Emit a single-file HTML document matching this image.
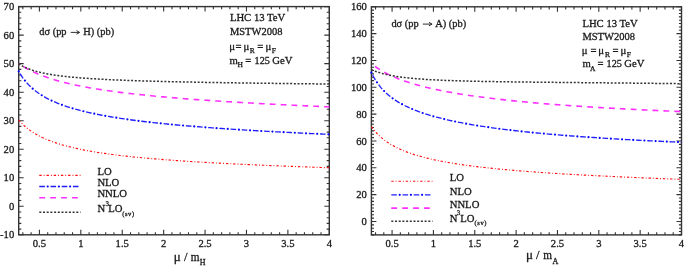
<!DOCTYPE html>
<html><head><meta charset="utf-8"><style>
html,body{margin:0;padding:0;background:#fff;}
body{width:685px;height:268px;overflow:hidden;}
svg{display:block;will-change:transform;filter:blur(0.35px);}
text{font-family:"Liberation Serif",serif;fill:#1a1a1a;stroke:#1a1a1a;stroke-width:0.3px;}
.t{font-size:10.6px;}
.x{font-size:11.5px;}
.g{text-rendering:geometricPrecision;}
</style></head><body>
<svg width="685" height="268" viewBox="0 0 685 268">
<rect x="18.7" y="6.6" width="310.60" height="228.20" fill="none" stroke="#333" stroke-width="1.4"/>
<path d="M22.84 234.80v-2.6M22.84 6.60v2.6M31.12 234.80v-2.6M31.12 6.60v2.6M39.41 234.80v-5.0M39.41 6.60v5.0M47.69 234.80v-2.6M47.69 6.60v2.6M55.97 234.80v-2.6M55.97 6.60v2.6M64.25 234.80v-2.6M64.25 6.60v2.6M72.54 234.80v-2.6M72.54 6.60v2.6M80.82 234.80v-5.0M80.82 6.60v5.0M89.10 234.80v-2.6M89.10 6.60v2.6M97.39 234.80v-2.6M97.39 6.60v2.6M105.67 234.80v-2.6M105.67 6.60v2.6M113.95 234.80v-2.6M113.95 6.60v2.6M122.23 234.80v-5.0M122.23 6.60v5.0M130.52 234.80v-2.6M130.52 6.60v2.6M138.80 234.80v-2.6M138.80 6.60v2.6M147.08 234.80v-2.6M147.08 6.60v2.6M155.36 234.80v-2.6M155.36 6.60v2.6M163.65 234.80v-5.0M163.65 6.60v5.0M171.93 234.80v-2.6M171.93 6.60v2.6M180.21 234.80v-2.6M180.21 6.60v2.6M188.49 234.80v-2.6M188.49 6.60v2.6M196.78 234.80v-2.6M196.78 6.60v2.6M205.06 234.80v-5.0M205.06 6.60v5.0M213.34 234.80v-2.6M213.34 6.60v2.6M221.63 234.80v-2.6M221.63 6.60v2.6M229.91 234.80v-2.6M229.91 6.60v2.6M238.19 234.80v-2.6M238.19 6.60v2.6M246.47 234.80v-5.0M246.47 6.60v5.0M254.76 234.80v-2.6M254.76 6.60v2.6M263.04 234.80v-2.6M263.04 6.60v2.6M271.32 234.80v-2.6M271.32 6.60v2.6M279.60 234.80v-2.6M279.60 6.60v2.6M287.89 234.80v-5.0M287.89 6.60v5.0M296.17 234.80v-2.6M296.17 6.60v2.6M304.45 234.80v-2.6M304.45 6.60v2.6M312.73 234.80v-2.6M312.73 6.60v2.6M321.02 234.80v-2.6M321.02 6.60v2.6M329.30 234.80v-5.0M329.30 6.60v5.0M18.70 234.80h5.0M329.30 234.80h-5.0M18.70 229.09h2.6M329.30 229.09h-2.6M18.70 223.39h2.6M329.30 223.39h-2.6M18.70 217.69h2.6M329.30 217.69h-2.6M18.70 211.98h2.6M329.30 211.98h-2.6M18.70 206.28h5.0M329.30 206.28h-5.0M18.70 200.57h2.6M329.30 200.57h-2.6M18.70 194.87h2.6M329.30 194.87h-2.6M18.70 189.16h2.6M329.30 189.16h-2.6M18.70 183.46h2.6M329.30 183.46h-2.6M18.70 177.75h5.0M329.30 177.75h-5.0M18.70 172.05h2.6M329.30 172.05h-2.6M18.70 166.34h2.6M329.30 166.34h-2.6M18.70 160.63h2.6M329.30 160.63h-2.6M18.70 154.93h2.6M329.30 154.93h-2.6M18.70 149.23h5.0M329.30 149.23h-5.0M18.70 143.52h2.6M329.30 143.52h-2.6M18.70 137.81h2.6M329.30 137.81h-2.6M18.70 132.11h2.6M329.30 132.11h-2.6M18.70 126.41h2.6M329.30 126.41h-2.6M18.70 120.70h5.0M329.30 120.70h-5.0M18.70 114.99h2.6M329.30 114.99h-2.6M18.70 109.29h2.6M329.30 109.29h-2.6M18.70 103.59h2.6M329.30 103.59h-2.6M18.70 97.88h2.6M329.30 97.88h-2.6M18.70 92.18h5.0M329.30 92.18h-5.0M18.70 86.47h2.6M329.30 86.47h-2.6M18.70 80.76h2.6M329.30 80.76h-2.6M18.70 75.06h2.6M329.30 75.06h-2.6M18.70 69.36h2.6M329.30 69.36h-2.6M18.70 63.65h5.0M329.30 63.65h-5.0M18.70 57.94h2.6M329.30 57.94h-2.6M18.70 52.24h2.6M329.30 52.24h-2.6M18.70 46.53h2.6M329.30 46.53h-2.6M18.70 40.83h2.6M329.30 40.83h-2.6M18.70 35.12h5.0M329.30 35.12h-5.0M18.70 29.42h2.6M329.30 29.42h-2.6M18.70 23.71h2.6M329.30 23.71h-2.6M18.70 18.01h2.6M329.30 18.01h-2.6M18.70 12.31h2.6M329.30 12.31h-2.6M18.70 6.60h5.0M329.30 6.60h-5.0" stroke="#333" stroke-width="1.1" fill="none"/>
<text x="39.41" y="247" text-anchor="middle" class="t">0.5</text>
<text x="80.82" y="247" text-anchor="middle" class="t">1</text>
<text x="122.23" y="247" text-anchor="middle" class="t">1.5</text>
<text x="163.65" y="247" text-anchor="middle" class="t">2</text>
<text x="205.06" y="247" text-anchor="middle" class="t">2.5</text>
<text x="246.47" y="247" text-anchor="middle" class="t">3</text>
<text x="287.89" y="247" text-anchor="middle" class="t">3.5</text>
<text x="329.30" y="247" text-anchor="middle" class="t">4</text>
<text x="14.20" y="238.40" text-anchor="end" class="t">-10</text>
<text x="14.20" y="209.88" text-anchor="end" class="t">0</text>
<text x="14.20" y="181.35" text-anchor="end" class="t">10</text>
<text x="14.20" y="152.83" text-anchor="end" class="t">20</text>
<text x="14.20" y="124.30" text-anchor="end" class="t">30</text>
<text x="14.20" y="95.78" text-anchor="end" class="t">40</text>
<text x="14.20" y="67.25" text-anchor="end" class="t">50</text>
<text x="14.20" y="38.73" text-anchor="end" class="t">60</text>
<text x="14.20" y="10.20" text-anchor="end" class="t">70</text>
<path d="M18.70 119.92 L20.65 122.14 L22.61 124.16 L24.56 125.99 L26.51 127.67 L28.47 129.22 L30.42 130.65 L32.37 131.98 L34.33 133.21 L36.28 134.37 L38.23 135.45 L40.19 136.47 L42.14 137.43 L44.09 138.33 L46.05 139.19 L48.00 140.00 L49.96 140.77 L51.91 141.51 L53.86 142.20 L55.82 142.87 L57.77 143.51 L59.72 144.12 L61.68 144.70 L63.63 145.26 L65.58 145.80 L67.54 146.32 L69.49 146.81 L71.44 147.29 L73.40 147.75 L75.35 148.20 L77.30 148.63 L79.26 149.05 L81.21 149.45 L83.16 149.84 L85.12 150.21 L87.07 150.58 L89.02 150.93 L90.98 151.28 L92.93 151.61 L94.88 151.94 L96.84 152.25 L98.79 152.56 L100.75 152.86 L102.70 153.15 L104.65 153.43 L106.61 153.71 L108.56 153.97 L110.51 154.24 L112.47 154.49 L114.42 154.74 L116.37 154.99 L118.33 155.23 L120.28 155.46 L122.23 155.69 L124.19 155.91 L126.14 156.13 L128.09 156.34 L130.05 156.55 L132.00 156.76 L133.95 156.96 L135.91 157.16 L137.86 157.35 L139.81 157.54 L141.77 157.73 L143.72 157.91 L145.67 158.09 L147.63 158.26 L149.58 158.44 L151.54 158.61 L153.49 158.77 L155.44 158.94 L157.40 159.10 L159.35 159.26 L161.30 159.41 L163.26 159.57 L165.21 159.72 L167.16 159.87 L169.12 160.01 L171.07 160.16 L173.02 160.30 L174.98 160.44 L176.93 160.58 L178.88 160.71 L180.84 160.85 L182.79 160.98 L184.74 161.11 L186.70 161.24 L188.65 161.36 L190.60 161.49 L192.56 161.61 L194.51 161.73 L196.46 161.85 L198.42 161.97 L200.37 162.09 L202.33 162.20 L204.28 162.32 L206.23 162.43 L208.19 162.54 L210.14 162.65 L212.09 162.76 L214.05 162.87 L216.00 162.98 L217.95 163.08 L219.91 163.19 L221.86 163.29 L223.81 163.39 L225.77 163.49 L227.72 163.59 L229.67 163.69 L231.63 163.79 L233.58 163.88 L235.53 163.98 L237.49 164.07 L239.44 164.17 L241.39 164.26 L243.35 164.35 L245.30 164.44 L247.25 164.54 L249.21 164.62 L251.16 164.71 L253.12 164.80 L255.07 164.89 L257.02 164.97 L258.98 165.06 L260.93 165.14 L262.88 165.23 L264.84 165.31 L266.79 165.39 L268.74 165.48 L270.70 165.56 L272.65 165.64 L274.60 165.72 L276.56 165.80 L278.51 165.88 L280.46 165.95 L282.42 166.03 L284.37 166.11 L286.32 166.19 L288.28 166.26 L290.23 166.34 L292.18 166.41 L294.14 166.49 L296.09 166.56 L298.04 166.63 L300.00 166.70 L301.95 166.78 L303.91 166.85 L305.86 166.92 L307.81 166.99 L309.77 167.06 L311.72 167.13 L313.67 167.20 L315.63 167.27 L317.58 167.34 L319.53 167.40 L321.49 167.47 L323.44 167.54 L325.39 167.61 L327.35 167.67 L329.30 167.74" stroke="#ff1010" stroke-width="1.15" fill="none" stroke-dasharray="2.4 2.0 0.9 1.9" stroke-dashoffset="0"/>
<path d="M18.70 71.30 L20.65 74.62 L22.61 77.55 L24.56 80.16 L26.51 82.52 L28.47 84.65 L30.42 86.59 L32.37 88.38 L34.33 90.02 L36.28 91.55 L38.23 92.97 L40.19 94.29 L42.14 95.53 L44.09 96.69 L46.05 97.79 L48.00 98.82 L49.96 99.80 L51.91 100.73 L53.86 101.62 L55.82 102.46 L57.77 103.26 L59.72 104.03 L61.68 104.76 L63.63 105.46 L65.58 106.14 L67.54 106.79 L69.49 107.41 L71.44 108.01 L73.40 108.59 L75.35 109.15 L77.30 109.69 L79.26 110.21 L81.21 110.71 L83.16 111.20 L85.12 111.67 L87.07 112.13 L89.02 112.58 L90.98 113.01 L92.93 113.43 L94.88 113.84 L96.84 114.24 L98.79 114.63 L100.75 115.01 L102.70 115.37 L104.65 115.73 L106.61 116.08 L108.56 116.43 L110.51 116.76 L112.47 117.09 L114.42 117.41 L116.37 117.72 L118.33 118.02 L120.28 118.32 L122.23 118.61 L124.19 118.90 L126.14 119.18 L128.09 119.45 L130.05 119.72 L132.00 119.99 L133.95 120.25 L135.91 120.50 L137.86 120.75 L139.81 121.00 L141.77 121.24 L143.72 121.47 L145.67 121.71 L147.63 121.94 L149.58 122.16 L151.54 122.38 L153.49 122.60 L155.44 122.81 L157.40 123.02 L159.35 123.23 L161.30 123.43 L163.26 123.63 L165.21 123.83 L167.16 124.03 L169.12 124.22 L171.07 124.41 L173.02 124.59 L174.98 124.78 L176.93 124.96 L178.88 125.14 L180.84 125.31 L182.79 125.48 L184.74 125.66 L186.70 125.83 L188.65 125.99 L190.60 126.16 L192.56 126.32 L194.51 126.48 L196.46 126.64 L198.42 126.79 L200.37 126.95 L202.33 127.10 L204.28 127.25 L206.23 127.40 L208.19 127.55 L210.14 127.69 L212.09 127.84 L214.05 127.98 L216.00 128.12 L217.95 128.26 L219.91 128.40 L221.86 128.53 L223.81 128.67 L225.77 128.80 L227.72 128.93 L229.67 129.06 L231.63 129.19 L233.58 129.32 L235.53 129.44 L237.49 129.57 L239.44 129.69 L241.39 129.81 L243.35 129.93 L245.30 130.05 L247.25 130.17 L249.21 130.29 L251.16 130.41 L253.12 130.52 L255.07 130.64 L257.02 130.75 L258.98 130.86 L260.93 130.97 L262.88 131.08 L264.84 131.19 L266.79 131.30 L268.74 131.41 L270.70 131.51 L272.65 131.62 L274.60 131.72 L276.56 131.83 L278.51 131.93 L280.46 132.03 L282.42 132.13 L284.37 132.23 L286.32 132.33 L288.28 132.43 L290.23 132.52 L292.18 132.62 L294.14 132.72 L296.09 132.81 L298.04 132.91 L300.00 133.00 L301.95 133.09 L303.91 133.18 L305.86 133.28 L307.81 133.37 L309.77 133.46 L311.72 133.55 L313.67 133.63 L315.63 133.72 L317.58 133.81 L319.53 133.90 L321.49 133.98 L323.44 134.07 L325.39 134.15 L327.35 134.24 L329.30 134.32" stroke="#2020ff" stroke-width="1.35" fill="none" stroke-dasharray="5.6 5.6" stroke-dashoffset="8.4"/><path d="M18.70 71.30 L20.65 74.62 L22.61 77.55 L24.56 80.16 L26.51 82.52 L28.47 84.65 L30.42 86.59 L32.37 88.38 L34.33 90.02 L36.28 91.55 L38.23 92.97 L40.19 94.29 L42.14 95.53 L44.09 96.69 L46.05 97.79 L48.00 98.82 L49.96 99.80 L51.91 100.73 L53.86 101.62 L55.82 102.46 L57.77 103.26 L59.72 104.03 L61.68 104.76 L63.63 105.46 L65.58 106.14 L67.54 106.79 L69.49 107.41 L71.44 108.01 L73.40 108.59 L75.35 109.15 L77.30 109.69 L79.26 110.21 L81.21 110.71 L83.16 111.20 L85.12 111.67 L87.07 112.13 L89.02 112.58 L90.98 113.01 L92.93 113.43 L94.88 113.84 L96.84 114.24 L98.79 114.63 L100.75 115.01 L102.70 115.37 L104.65 115.73 L106.61 116.08 L108.56 116.43 L110.51 116.76 L112.47 117.09 L114.42 117.41 L116.37 117.72 L118.33 118.02 L120.28 118.32 L122.23 118.61 L124.19 118.90 L126.14 119.18 L128.09 119.45 L130.05 119.72 L132.00 119.99 L133.95 120.25 L135.91 120.50 L137.86 120.75 L139.81 121.00 L141.77 121.24 L143.72 121.47 L145.67 121.71 L147.63 121.94 L149.58 122.16 L151.54 122.38 L153.49 122.60 L155.44 122.81 L157.40 123.02 L159.35 123.23 L161.30 123.43 L163.26 123.63 L165.21 123.83 L167.16 124.03 L169.12 124.22 L171.07 124.41 L173.02 124.59 L174.98 124.78 L176.93 124.96 L178.88 125.14 L180.84 125.31 L182.79 125.48 L184.74 125.66 L186.70 125.83 L188.65 125.99 L190.60 126.16 L192.56 126.32 L194.51 126.48 L196.46 126.64 L198.42 126.79 L200.37 126.95 L202.33 127.10 L204.28 127.25 L206.23 127.40 L208.19 127.55 L210.14 127.69 L212.09 127.84 L214.05 127.98 L216.00 128.12 L217.95 128.26 L219.91 128.40 L221.86 128.53 L223.81 128.67 L225.77 128.80 L227.72 128.93 L229.67 129.06 L231.63 129.19 L233.58 129.32 L235.53 129.44 L237.49 129.57 L239.44 129.69 L241.39 129.81 L243.35 129.93 L245.30 130.05 L247.25 130.17 L249.21 130.29 L251.16 130.41 L253.12 130.52 L255.07 130.64 L257.02 130.75 L258.98 130.86 L260.93 130.97 L262.88 131.08 L264.84 131.19 L266.79 131.30 L268.74 131.41 L270.70 131.51 L272.65 131.62 L274.60 131.72 L276.56 131.83 L278.51 131.93 L280.46 132.03 L282.42 132.13 L284.37 132.23 L286.32 132.33 L288.28 132.43 L290.23 132.52 L292.18 132.62 L294.14 132.72 L296.09 132.81 L298.04 132.91 L300.00 133.00 L301.95 133.09 L303.91 133.18 L305.86 133.28 L307.81 133.37 L309.77 133.46 L311.72 133.55 L313.67 133.63 L315.63 133.72 L317.58 133.81 L319.53 133.90 L321.49 133.98 L323.44 134.07 L325.39 134.15 L327.35 134.24 L329.30 134.32" stroke="#0000ff" stroke-width="2.2" stroke-linecap="round" fill="none" stroke-dasharray="0 11.2" stroke-dashoffset="0.0"/>
<path d="M18.70 63.49 L20.65 64.82 L22.61 66.07 L24.56 67.26 L26.51 68.39 L28.47 69.46 L30.42 70.47 L32.37 71.44 L34.33 72.36 L36.28 73.23 L38.23 74.07 L40.19 74.86 L42.14 75.63 L44.09 76.36 L46.05 77.06 L48.00 77.73 L49.96 78.38 L51.91 79.00 L53.86 79.60 L55.82 80.18 L57.77 80.74 L59.72 81.28 L61.68 81.80 L63.63 82.31 L65.58 82.80 L67.54 83.27 L69.49 83.73 L71.44 84.18 L73.40 84.61 L75.35 85.03 L77.30 85.44 L79.26 85.84 L81.21 86.23 L83.16 86.61 L85.12 86.97 L87.07 87.33 L89.02 87.68 L90.98 88.03 L92.93 88.36 L94.88 88.69 L96.84 89.00 L98.79 89.32 L100.75 89.62 L102.70 89.92 L104.65 90.21 L106.61 90.50 L108.56 90.78 L110.51 91.05 L112.47 91.32 L114.42 91.58 L116.37 91.84 L118.33 92.10 L120.28 92.35 L122.23 92.59 L124.19 92.83 L126.14 93.07 L128.09 93.30 L130.05 93.53 L132.00 93.75 L133.95 93.97 L135.91 94.19 L137.86 94.40 L139.81 94.61 L141.77 94.82 L143.72 95.02 L145.67 95.22 L147.63 95.42 L149.58 95.61 L151.54 95.81 L153.49 95.99 L155.44 96.18 L157.40 96.36 L159.35 96.54 L161.30 96.72 L163.26 96.90 L165.21 97.07 L167.16 97.24 L169.12 97.41 L171.07 97.58 L173.02 97.75 L174.98 97.91 L176.93 98.07 L178.88 98.23 L180.84 98.38 L182.79 98.54 L184.74 98.69 L186.70 98.84 L188.65 98.99 L190.60 99.14 L192.56 99.29 L194.51 99.43 L196.46 99.58 L198.42 99.72 L200.37 99.86 L202.33 100.00 L204.28 100.13 L206.23 100.27 L208.19 100.40 L210.14 100.54 L212.09 100.67 L214.05 100.80 L216.00 100.93 L217.95 101.06 L219.91 101.18 L221.86 101.31 L223.81 101.43 L225.77 101.55 L227.72 101.68 L229.67 101.80 L231.63 101.92 L233.58 102.04 L235.53 102.15 L237.49 102.27 L239.44 102.39 L241.39 102.50 L243.35 102.61 L245.30 102.73 L247.25 102.84 L249.21 102.95 L251.16 103.06 L253.12 103.17 L255.07 103.28 L257.02 103.38 L258.98 103.49 L260.93 103.59 L262.88 103.70 L264.84 103.80 L266.79 103.91 L268.74 104.01 L270.70 104.11 L272.65 104.21 L274.60 104.31 L276.56 104.41 L278.51 104.51 L280.46 104.61 L282.42 104.71 L284.37 104.80 L286.32 104.90 L288.28 104.99 L290.23 105.09 L292.18 105.18 L294.14 105.28 L296.09 105.37 L298.04 105.46 L300.00 105.55 L301.95 105.65 L303.91 105.74 L305.86 105.83 L307.81 105.92 L309.77 106.00 L311.72 106.09 L313.67 106.18 L315.63 106.27 L317.58 106.35 L319.53 106.44 L321.49 106.53 L323.44 106.61 L325.39 106.70 L327.35 106.78 L329.30 106.86" stroke="#ff30ff" stroke-width="1.6" fill="none" stroke-dasharray="5.8 5.1" stroke-dashoffset="5.1"/>
<path d="M18.70 63.66 L20.65 64.94 L22.61 66.07 L24.56 67.07 L26.51 67.97 L28.47 68.78 L30.42 69.51 L32.37 70.18 L34.33 70.80 L36.28 71.36 L38.23 71.88 L40.19 72.37 L42.14 72.82 L44.09 73.24 L46.05 73.63 L48.00 73.99 L49.96 74.34 L51.91 74.66 L53.86 74.96 L55.82 75.25 L57.77 75.53 L59.72 75.78 L61.68 76.03 L63.63 76.26 L65.58 76.48 L67.54 76.69 L69.49 76.89 L71.44 77.09 L73.40 77.27 L75.35 77.45 L77.30 77.62 L79.26 77.78 L81.21 77.93 L83.16 78.08 L85.12 78.23 L87.07 78.36 L89.02 78.50 L90.98 78.63 L92.93 78.75 L94.88 78.87 L96.84 78.99 L98.79 79.10 L100.75 79.21 L102.70 79.31 L104.65 79.41 L106.61 79.51 L108.56 79.61 L110.51 79.70 L112.47 79.79 L114.42 79.88 L116.37 79.96 L118.33 80.04 L120.28 80.12 L122.23 80.20 L124.19 80.28 L126.14 80.35 L128.09 80.42 L130.05 80.50 L132.00 80.56 L133.95 80.63 L135.91 80.70 L137.86 80.76 L139.81 80.82 L141.77 80.89 L143.72 80.95 L145.67 81.00 L147.63 81.06 L149.58 81.12 L151.54 81.17 L153.49 81.23 L155.44 81.28 L157.40 81.33 L159.35 81.38 L161.30 81.43 L163.26 81.48 L165.21 81.53 L167.16 81.58 L169.12 81.63 L171.07 81.67 L173.02 81.72 L174.98 81.76 L176.93 81.80 L178.88 81.85 L180.84 81.89 L182.79 81.93 L184.74 81.97 L186.70 82.01 L188.65 82.05 L190.60 82.09 L192.56 82.13 L194.51 82.17 L196.46 82.20 L198.42 82.24 L200.37 82.28 L202.33 82.31 L204.28 82.35 L206.23 82.38 L208.19 82.42 L210.14 82.45 L212.09 82.48 L214.05 82.52 L216.00 82.55 L217.95 82.58 L219.91 82.62 L221.86 82.65 L223.81 82.68 L225.77 82.71 L227.72 82.74 L229.67 82.77 L231.63 82.80 L233.58 82.83 L235.53 82.86 L237.49 82.89 L239.44 82.92 L241.39 82.95 L243.35 82.97 L245.30 83.00 L247.25 83.03 L249.21 83.06 L251.16 83.09 L253.12 83.11 L255.07 83.14 L257.02 83.17 L258.98 83.19 L260.93 83.22 L262.88 83.24 L264.84 83.27 L266.79 83.30 L268.74 83.32 L270.70 83.35 L272.65 83.37 L274.60 83.40 L276.56 83.42 L278.51 83.45 L280.46 83.47 L282.42 83.49 L284.37 83.52 L286.32 83.54 L288.28 83.57 L290.23 83.59 L292.18 83.61 L294.14 83.64 L296.09 83.66 L298.04 83.68 L300.00 83.71 L301.95 83.73 L303.91 83.75 L305.86 83.77 L307.81 83.80 L309.77 83.82 L311.72 83.84 L313.67 83.86 L315.63 83.88 L317.58 83.91 L319.53 83.93 L321.49 83.95 L323.44 83.97 L325.39 83.99 L327.35 84.01 L329.30 84.03" stroke="#333" stroke-width="1.5" fill="none" stroke-dasharray="2 1.7" stroke-dashoffset="0"/>
<rect x="371.4" y="6.8" width="310.10" height="228.10" fill="none" stroke="#333" stroke-width="1.4"/>
<path d="M375.53 234.90v-2.6M375.53 6.80v2.6M383.80 234.90v-2.6M383.80 6.80v2.6M392.07 234.90v-5.0M392.07 6.80v5.0M400.34 234.90v-2.6M400.34 6.80v2.6M408.61 234.90v-2.6M408.61 6.80v2.6M416.88 234.90v-2.6M416.88 6.80v2.6M425.15 234.90v-2.6M425.15 6.80v2.6M433.42 234.90v-5.0M433.42 6.80v5.0M441.69 234.90v-2.6M441.69 6.80v2.6M449.96 234.90v-2.6M449.96 6.80v2.6M458.23 234.90v-2.6M458.23 6.80v2.6M466.50 234.90v-2.6M466.50 6.80v2.6M474.77 234.90v-5.0M474.77 6.80v5.0M483.04 234.90v-2.6M483.04 6.80v2.6M491.31 234.90v-2.6M491.31 6.80v2.6M499.57 234.90v-2.6M499.57 6.80v2.6M507.84 234.90v-2.6M507.84 6.80v2.6M516.11 234.90v-5.0M516.11 6.80v5.0M524.38 234.90v-2.6M524.38 6.80v2.6M532.65 234.90v-2.6M532.65 6.80v2.6M540.92 234.90v-2.6M540.92 6.80v2.6M549.19 234.90v-2.6M549.19 6.80v2.6M557.46 234.90v-5.0M557.46 6.80v5.0M565.73 234.90v-2.6M565.73 6.80v2.6M574.00 234.90v-2.6M574.00 6.80v2.6M582.27 234.90v-2.6M582.27 6.80v2.6M590.54 234.90v-2.6M590.54 6.80v2.6M598.81 234.90v-5.0M598.81 6.80v5.0M607.08 234.90v-2.6M607.08 6.80v2.6M615.35 234.90v-2.6M615.35 6.80v2.6M623.61 234.90v-2.6M623.61 6.80v2.6M631.88 234.90v-2.6M631.88 6.80v2.6M640.15 234.90v-5.0M640.15 6.80v5.0M648.42 234.90v-2.6M648.42 6.80v2.6M656.69 234.90v-2.6M656.69 6.80v2.6M664.96 234.90v-2.6M664.96 6.80v2.6M673.23 234.90v-2.6M673.23 6.80v2.6M681.50 234.90v-5.0M681.50 6.80v5.0M371.40 234.90h2.6M681.50 234.90h-2.6M371.40 231.55h2.6M681.50 231.55h-2.6M371.40 228.19h2.6M681.50 228.19h-2.6M371.40 224.84h2.6M681.50 224.84h-2.6M371.40 221.48h5.0M681.50 221.48h-5.0M371.40 218.13h2.6M681.50 218.13h-2.6M371.40 214.77h2.6M681.50 214.77h-2.6M371.40 211.42h2.6M681.50 211.42h-2.6M371.40 208.06h2.6M681.50 208.06h-2.6M371.40 204.71h2.6M681.50 204.71h-2.6M371.40 201.36h2.6M681.50 201.36h-2.6M371.40 198.00h2.6M681.50 198.00h-2.6M371.40 194.65h5.0M681.50 194.65h-5.0M371.40 191.29h2.6M681.50 191.29h-2.6M371.40 187.94h2.6M681.50 187.94h-2.6M371.40 184.58h2.6M681.50 184.58h-2.6M371.40 181.23h2.6M681.50 181.23h-2.6M371.40 177.88h2.6M681.50 177.88h-2.6M371.40 174.52h2.6M681.50 174.52h-2.6M371.40 171.17h2.6M681.50 171.17h-2.6M371.40 167.81h5.0M681.50 167.81h-5.0M371.40 164.46h2.6M681.50 164.46h-2.6M371.40 161.10h2.6M681.50 161.10h-2.6M371.40 157.75h2.6M681.50 157.75h-2.6M371.40 154.39h2.6M681.50 154.39h-2.6M371.40 151.04h2.6M681.50 151.04h-2.6M371.40 147.69h2.6M681.50 147.69h-2.6M371.40 144.33h2.6M681.50 144.33h-2.6M371.40 140.98h5.0M681.50 140.98h-5.0M371.40 137.62h2.6M681.50 137.62h-2.6M371.40 134.27h2.6M681.50 134.27h-2.6M371.40 130.91h2.6M681.50 130.91h-2.6M371.40 127.56h2.6M681.50 127.56h-2.6M371.40 124.20h2.6M681.50 124.20h-2.6M371.40 120.85h2.6M681.50 120.85h-2.6M371.40 117.50h2.6M681.50 117.50h-2.6M371.40 114.14h5.0M681.50 114.14h-5.0M371.40 110.79h2.6M681.50 110.79h-2.6M371.40 107.43h2.6M681.50 107.43h-2.6M371.40 104.08h2.6M681.50 104.08h-2.6M371.40 100.72h2.6M681.50 100.72h-2.6M371.40 97.37h2.6M681.50 97.37h-2.6M371.40 94.01h2.6M681.50 94.01h-2.6M371.40 90.66h2.6M681.50 90.66h-2.6M371.40 87.31h5.0M681.50 87.31h-5.0M371.40 83.95h2.6M681.50 83.95h-2.6M371.40 80.60h2.6M681.50 80.60h-2.6M371.40 77.24h2.6M681.50 77.24h-2.6M371.40 73.89h2.6M681.50 73.89h-2.6M371.40 70.53h2.6M681.50 70.53h-2.6M371.40 67.18h2.6M681.50 67.18h-2.6M371.40 63.83h2.6M681.50 63.83h-2.6M371.40 60.47h5.0M681.50 60.47h-5.0M371.40 57.12h2.6M681.50 57.12h-2.6M371.40 53.76h2.6M681.50 53.76h-2.6M371.40 50.41h2.6M681.50 50.41h-2.6M371.40 47.05h2.6M681.50 47.05h-2.6M371.40 43.70h2.6M681.50 43.70h-2.6M371.40 40.34h2.6M681.50 40.34h-2.6M371.40 36.99h2.6M681.50 36.99h-2.6M371.40 33.64h5.0M681.50 33.64h-5.0M371.40 30.28h2.6M681.50 30.28h-2.6M371.40 26.93h2.6M681.50 26.93h-2.6M371.40 23.57h2.6M681.50 23.57h-2.6M371.40 20.22h2.6M681.50 20.22h-2.6M371.40 16.86h2.6M681.50 16.86h-2.6M371.40 13.51h2.6M681.50 13.51h-2.6M371.40 10.15h2.6M681.50 10.15h-2.6M371.40 6.80h5.0M681.50 6.80h-5.0" stroke="#333" stroke-width="1.1" fill="none"/>
<text x="392.07" y="247" text-anchor="middle" class="t">0.5</text>
<text x="433.42" y="247" text-anchor="middle" class="t">1</text>
<text x="474.77" y="247" text-anchor="middle" class="t">1.5</text>
<text x="516.11" y="247" text-anchor="middle" class="t">2</text>
<text x="557.46" y="247" text-anchor="middle" class="t">2.5</text>
<text x="598.81" y="247" text-anchor="middle" class="t">3</text>
<text x="640.15" y="247" text-anchor="middle" class="t">3.5</text>
<text x="681.50" y="247" text-anchor="middle" class="t">4</text>
<text x="366.90" y="225.08" text-anchor="end" class="t">0</text>
<text x="366.90" y="198.25" text-anchor="end" class="t">20</text>
<text x="366.90" y="171.41" text-anchor="end" class="t">40</text>
<text x="366.90" y="144.58" text-anchor="end" class="t">60</text>
<text x="366.90" y="117.74" text-anchor="end" class="t">80</text>
<text x="366.90" y="90.91" text-anchor="end" class="t">100</text>
<text x="366.90" y="64.07" text-anchor="end" class="t">120</text>
<text x="366.90" y="37.24" text-anchor="end" class="t">140</text>
<text x="366.90" y="10.40" text-anchor="end" class="t">160</text>
<path d="M371.40 126.69 L373.35 129.30 L375.30 131.64 L377.25 133.76 L379.20 135.68 L381.15 137.44 L383.10 139.06 L385.05 140.55 L387.00 141.94 L388.95 143.23 L390.90 144.43 L392.85 145.56 L394.80 146.62 L396.75 147.62 L398.70 148.56 L400.65 149.45 L402.61 150.30 L404.56 151.10 L406.51 151.86 L408.46 152.59 L410.41 153.28 L412.36 153.94 L414.31 154.58 L416.26 155.18 L418.21 155.76 L420.16 156.32 L422.11 156.86 L424.06 157.38 L426.01 157.88 L427.96 158.35 L429.91 158.82 L431.86 159.27 L433.81 159.70 L435.76 160.12 L437.71 160.52 L439.66 160.91 L441.61 161.29 L443.56 161.66 L445.51 162.02 L447.46 162.37 L449.41 162.70 L451.36 163.03 L453.31 163.35 L455.26 163.66 L457.21 163.97 L459.16 164.26 L461.11 164.55 L463.06 164.83 L465.02 165.11 L466.97 165.37 L468.92 165.63 L470.87 165.89 L472.82 166.14 L474.77 166.38 L476.72 166.62 L478.67 166.86 L480.62 167.08 L482.57 167.31 L484.52 167.53 L486.47 167.74 L488.42 167.95 L490.37 168.16 L492.32 168.36 L494.27 168.56 L496.22 168.76 L498.17 168.95 L500.12 169.14 L502.07 169.32 L504.02 169.51 L505.97 169.68 L507.92 169.86 L509.87 170.03 L511.82 170.20 L513.77 170.37 L515.72 170.53 L517.67 170.70 L519.62 170.86 L521.57 171.01 L523.52 171.17 L525.47 171.32 L527.43 171.47 L529.38 171.62 L531.33 171.76 L533.28 171.91 L535.23 172.05 L537.18 172.19 L539.13 172.33 L541.08 172.46 L543.03 172.60 L544.98 172.73 L546.93 172.86 L548.88 172.99 L550.83 173.12 L552.78 173.24 L554.73 173.37 L556.68 173.49 L558.63 173.61 L560.58 173.73 L562.53 173.85 L564.48 173.97 L566.43 174.09 L568.38 174.20 L570.33 174.31 L572.28 174.43 L574.23 174.54 L576.18 174.65 L578.13 174.76 L580.08 174.86 L582.03 174.97 L583.98 175.08 L585.93 175.18 L587.88 175.28 L589.84 175.39 L591.79 175.49 L593.74 175.59 L595.69 175.69 L597.64 175.79 L599.59 175.88 L601.54 175.98 L603.49 176.08 L605.44 176.17 L607.39 176.26 L609.34 176.36 L611.29 176.45 L613.24 176.54 L615.19 176.63 L617.14 176.72 L619.09 176.81 L621.04 176.90 L622.99 176.99 L624.94 177.08 L626.89 177.16 L628.84 177.25 L630.79 177.34 L632.74 177.42 L634.69 177.51 L636.64 177.59 L638.59 177.67 L640.54 177.75 L642.49 177.84 L644.44 177.92 L646.39 178.00 L648.34 178.08 L650.29 178.16 L652.25 178.24 L654.20 178.31 L656.15 178.39 L658.10 178.47 L660.05 178.55 L662.00 178.62 L663.95 178.70 L665.90 178.77 L667.85 178.85 L669.80 178.92 L671.75 179.00 L673.70 179.07 L675.65 179.14 L677.60 179.22 L679.55 179.29 L681.50 179.36" stroke="#ff1010" stroke-width="1.15" fill="none" stroke-dasharray="2.4 2.0 0.9 1.9" stroke-dashoffset="0"/>
<path d="M371.40 72.67 L373.35 76.49 L375.30 79.84 L377.25 82.80 L379.20 85.45 L381.15 87.83 L383.10 89.99 L385.05 91.97 L387.00 93.79 L388.95 95.47 L390.90 97.02 L392.85 98.48 L394.80 99.83 L396.75 101.10 L398.70 102.30 L400.65 103.43 L402.61 104.50 L404.56 105.51 L406.51 106.48 L408.46 107.39 L410.41 108.27 L412.36 109.10 L414.31 109.90 L416.26 110.67 L418.21 111.41 L420.16 112.11 L422.11 112.80 L424.06 113.45 L426.01 114.08 L427.96 114.70 L429.91 115.29 L431.86 115.86 L433.81 116.41 L435.76 116.95 L437.71 117.47 L439.66 117.97 L441.61 118.47 L443.56 118.94 L445.51 119.41 L447.46 119.86 L449.41 120.30 L451.36 120.73 L453.31 121.14 L455.26 121.55 L457.21 121.95 L459.16 122.34 L461.11 122.71 L463.06 123.08 L465.02 123.45 L466.97 123.80 L468.92 124.15 L470.87 124.49 L472.82 124.82 L474.77 125.14 L476.72 125.46 L478.67 125.77 L480.62 126.08 L482.57 126.38 L484.52 126.67 L486.47 126.96 L488.42 127.25 L490.37 127.52 L492.32 127.80 L494.27 128.07 L496.22 128.33 L498.17 128.59 L500.12 128.84 L502.07 129.09 L504.02 129.34 L505.97 129.58 L507.92 129.82 L509.87 130.05 L511.82 130.28 L513.77 130.51 L515.72 130.73 L517.67 130.95 L519.62 131.17 L521.57 131.38 L523.52 131.59 L525.47 131.80 L527.43 132.01 L529.38 132.21 L531.33 132.40 L533.28 132.60 L535.23 132.79 L537.18 132.98 L539.13 133.17 L541.08 133.35 L543.03 133.54 L544.98 133.72 L546.93 133.89 L548.88 134.07 L550.83 134.24 L552.78 134.41 L554.73 134.58 L556.68 134.75 L558.63 134.91 L560.58 135.07 L562.53 135.23 L564.48 135.39 L566.43 135.55 L568.38 135.70 L570.33 135.85 L572.28 136.00 L574.23 136.15 L576.18 136.30 L578.13 136.44 L580.08 136.58 L582.03 136.73 L583.98 136.87 L585.93 137.00 L587.88 137.14 L589.84 137.28 L591.79 137.41 L593.74 137.54 L595.69 137.67 L597.64 137.80 L599.59 137.93 L601.54 138.06 L603.49 138.18 L605.44 138.30 L607.39 138.43 L609.34 138.55 L611.29 138.67 L613.24 138.79 L615.19 138.90 L617.14 139.02 L619.09 139.13 L621.04 139.25 L622.99 139.36 L624.94 139.47 L626.89 139.58 L628.84 139.69 L630.79 139.80 L632.74 139.90 L634.69 140.01 L636.64 140.11 L638.59 140.22 L640.54 140.32 L642.49 140.42 L644.44 140.52 L646.39 140.62 L648.34 140.72 L650.29 140.81 L652.25 140.91 L654.20 141.01 L656.15 141.10 L658.10 141.19 L660.05 141.29 L662.00 141.38 L663.95 141.47 L665.90 141.56 L667.85 141.65 L669.80 141.74 L671.75 141.83 L673.70 141.91 L675.65 142.00 L677.60 142.08 L679.55 142.17 L681.50 142.25" stroke="#2020ff" stroke-width="1.35" fill="none" stroke-dasharray="5.6 5.6" stroke-dashoffset="8.4"/><path d="M371.40 72.67 L373.35 76.49 L375.30 79.84 L377.25 82.80 L379.20 85.45 L381.15 87.83 L383.10 89.99 L385.05 91.97 L387.00 93.79 L388.95 95.47 L390.90 97.02 L392.85 98.48 L394.80 99.83 L396.75 101.10 L398.70 102.30 L400.65 103.43 L402.61 104.50 L404.56 105.51 L406.51 106.48 L408.46 107.39 L410.41 108.27 L412.36 109.10 L414.31 109.90 L416.26 110.67 L418.21 111.41 L420.16 112.11 L422.11 112.80 L424.06 113.45 L426.01 114.08 L427.96 114.70 L429.91 115.29 L431.86 115.86 L433.81 116.41 L435.76 116.95 L437.71 117.47 L439.66 117.97 L441.61 118.47 L443.56 118.94 L445.51 119.41 L447.46 119.86 L449.41 120.30 L451.36 120.73 L453.31 121.14 L455.26 121.55 L457.21 121.95 L459.16 122.34 L461.11 122.71 L463.06 123.08 L465.02 123.45 L466.97 123.80 L468.92 124.15 L470.87 124.49 L472.82 124.82 L474.77 125.14 L476.72 125.46 L478.67 125.77 L480.62 126.08 L482.57 126.38 L484.52 126.67 L486.47 126.96 L488.42 127.25 L490.37 127.52 L492.32 127.80 L494.27 128.07 L496.22 128.33 L498.17 128.59 L500.12 128.84 L502.07 129.09 L504.02 129.34 L505.97 129.58 L507.92 129.82 L509.87 130.05 L511.82 130.28 L513.77 130.51 L515.72 130.73 L517.67 130.95 L519.62 131.17 L521.57 131.38 L523.52 131.59 L525.47 131.80 L527.43 132.01 L529.38 132.21 L531.33 132.40 L533.28 132.60 L535.23 132.79 L537.18 132.98 L539.13 133.17 L541.08 133.35 L543.03 133.54 L544.98 133.72 L546.93 133.89 L548.88 134.07 L550.83 134.24 L552.78 134.41 L554.73 134.58 L556.68 134.75 L558.63 134.91 L560.58 135.07 L562.53 135.23 L564.48 135.39 L566.43 135.55 L568.38 135.70 L570.33 135.85 L572.28 136.00 L574.23 136.15 L576.18 136.30 L578.13 136.44 L580.08 136.58 L582.03 136.73 L583.98 136.87 L585.93 137.00 L587.88 137.14 L589.84 137.28 L591.79 137.41 L593.74 137.54 L595.69 137.67 L597.64 137.80 L599.59 137.93 L601.54 138.06 L603.49 138.18 L605.44 138.30 L607.39 138.43 L609.34 138.55 L611.29 138.67 L613.24 138.79 L615.19 138.90 L617.14 139.02 L619.09 139.13 L621.04 139.25 L622.99 139.36 L624.94 139.47 L626.89 139.58 L628.84 139.69 L630.79 139.80 L632.74 139.90 L634.69 140.01 L636.64 140.11 L638.59 140.22 L640.54 140.32 L642.49 140.42 L644.44 140.52 L646.39 140.62 L648.34 140.72 L650.29 140.81 L652.25 140.91 L654.20 141.01 L656.15 141.10 L658.10 141.19 L660.05 141.29 L662.00 141.38 L663.95 141.47 L665.90 141.56 L667.85 141.65 L669.80 141.74 L671.75 141.83 L673.70 141.91 L675.65 142.00 L677.60 142.08 L679.55 142.17 L681.50 142.25" stroke="#0000ff" stroke-width="2.2" stroke-linecap="round" fill="none" stroke-dasharray="0 11.2" stroke-dashoffset="0.0"/>
<path d="M375.00 66.37 L376.93 67.74 L378.86 69.03 L380.78 70.23 L382.71 71.37 L384.64 72.44 L386.57 73.46 L388.49 74.43 L390.42 75.35 L392.35 76.23 L394.28 77.07 L396.20 77.87 L398.13 78.65 L400.06 79.39 L401.99 80.10 L403.92 80.79 L405.84 81.45 L407.77 82.09 L409.70 82.71 L411.63 83.30 L413.55 83.88 L415.48 84.44 L417.41 84.99 L419.34 85.51 L421.26 86.02 L423.19 86.52 L425.12 87.00 L427.05 87.48 L428.97 87.93 L430.90 88.38 L432.83 88.81 L434.76 89.24 L436.69 89.65 L438.61 90.05 L440.54 90.45 L442.47 90.83 L444.40 91.21 L446.32 91.58 L448.25 91.93 L450.18 92.29 L452.11 92.63 L454.03 92.97 L455.96 93.30 L457.89 93.62 L459.82 93.94 L461.75 94.25 L463.67 94.55 L465.60 94.85 L467.53 95.14 L469.46 95.43 L471.38 95.71 L473.31 95.99 L475.24 96.26 L477.17 96.53 L479.09 96.79 L481.02 97.05 L482.95 97.31 L484.88 97.56 L486.81 97.80 L488.73 98.04 L490.66 98.28 L492.59 98.51 L494.52 98.74 L496.44 98.97 L498.37 99.19 L500.30 99.41 L502.23 99.63 L504.15 99.84 L506.08 100.05 L508.01 100.26 L509.94 100.46 L511.86 100.66 L513.79 100.86 L515.72 101.06 L517.65 101.25 L519.58 101.44 L521.50 101.63 L523.43 101.81 L525.36 101.99 L527.29 102.17 L529.21 102.35 L531.14 102.52 L533.07 102.70 L535.00 102.87 L536.92 103.03 L538.85 103.20 L540.78 103.36 L542.71 103.53 L544.64 103.69 L546.56 103.84 L548.49 104.00 L550.42 104.15 L552.35 104.31 L554.27 104.46 L556.20 104.61 L558.13 104.75 L560.06 104.90 L561.98 105.04 L563.91 105.18 L565.84 105.32 L567.77 105.46 L569.69 105.60 L571.62 105.73 L573.55 105.87 L575.48 106.00 L577.41 106.13 L579.33 106.26 L581.26 106.39 L583.19 106.52 L585.12 106.64 L587.04 106.77 L588.97 106.89 L590.90 107.01 L592.83 107.13 L594.75 107.25 L596.68 107.37 L598.61 107.48 L600.54 107.60 L602.47 107.71 L604.39 107.83 L606.32 107.94 L608.25 108.05 L610.18 108.16 L612.10 108.27 L614.03 108.38 L615.96 108.48 L617.89 108.59 L619.81 108.69 L621.74 108.80 L623.67 108.90 L625.60 109.00 L627.53 109.10 L629.45 109.20 L631.38 109.30 L633.31 109.40 L635.24 109.50 L637.16 109.59 L639.09 109.69 L641.02 109.78 L642.95 109.87 L644.87 109.97 L646.80 110.06 L648.73 110.15 L650.66 110.24 L652.58 110.33 L654.51 110.42 L656.44 110.51 L658.37 110.59 L660.30 110.68 L662.22 110.77 L664.15 110.85 L666.08 110.93 L668.01 111.02 L669.93 111.10 L671.86 111.18 L673.79 111.26 L675.72 111.34 L677.64 111.42 L679.57 111.50 L681.50 111.58" stroke="#ff30ff" stroke-width="1.6" fill="none" stroke-dasharray="5.8 5.1" stroke-dashoffset="0"/>
<path d="M371.40 69.79 L373.35 70.58 L375.30 71.30 L377.25 71.97 L379.20 72.58 L381.15 73.15 L383.10 73.68 L385.05 74.16 L387.00 74.61 L388.95 75.03 L390.90 75.41 L392.85 75.78 L394.80 76.11 L396.75 76.43 L398.70 76.72 L400.65 76.99 L402.61 77.25 L404.56 77.49 L406.51 77.72 L408.46 77.93 L410.41 78.13 L412.36 78.32 L414.31 78.50 L416.26 78.67 L418.21 78.83 L420.16 78.98 L422.11 79.12 L424.06 79.26 L426.01 79.39 L427.96 79.51 L429.91 79.63 L431.86 79.74 L433.81 79.84 L435.76 79.94 L437.71 80.04 L439.66 80.13 L441.61 80.22 L443.56 80.30 L445.51 80.38 L447.46 80.45 L449.41 80.53 L451.36 80.60 L453.31 80.66 L455.26 80.73 L457.21 80.79 L459.16 80.85 L461.11 80.90 L463.06 80.96 L465.02 81.01 L466.97 81.06 L468.92 81.11 L470.87 81.16 L472.82 81.20 L474.77 81.25 L476.72 81.29 L478.67 81.33 L480.62 81.37 L482.57 81.41 L484.52 81.45 L486.47 81.48 L488.42 81.52 L490.37 81.55 L492.32 81.58 L494.27 81.62 L496.22 81.65 L498.17 81.68 L500.12 81.71 L502.07 81.74 L504.02 81.77 L505.97 81.79 L507.92 81.82 L509.87 81.85 L511.82 81.88 L513.77 81.90 L515.72 81.93 L517.67 81.95 L519.62 81.98 L521.57 82.00 L523.52 82.02 L525.47 82.05 L527.43 82.07 L529.38 82.09 L531.33 82.11 L533.28 82.14 L535.23 82.16 L537.18 82.18 L539.13 82.20 L541.08 82.22 L543.03 82.24 L544.98 82.26 L546.93 82.28 L548.88 82.30 L550.83 82.32 L552.78 82.34 L554.73 82.36 L556.68 82.38 L558.63 82.40 L560.58 82.42 L562.53 82.44 L564.48 82.46 L566.43 82.48 L568.38 82.50 L570.33 82.52 L572.28 82.54 L574.23 82.56 L576.18 82.58 L578.13 82.60 L580.08 82.62 L582.03 82.63 L583.98 82.65 L585.93 82.67 L587.88 82.69 L589.84 82.71 L591.79 82.73 L593.74 82.75 L595.69 82.77 L597.64 82.79 L599.59 82.81 L601.54 82.83 L603.49 82.85 L605.44 82.86 L607.39 82.88 L609.34 82.90 L611.29 82.92 L613.24 82.94 L615.19 82.96 L617.14 82.98 L619.09 83.00 L621.04 83.02 L622.99 83.04 L624.94 83.06 L626.89 83.08 L628.84 83.10 L630.79 83.12 L632.74 83.14 L634.69 83.16 L636.64 83.18 L638.59 83.20 L640.54 83.22 L642.49 83.25 L644.44 83.27 L646.39 83.29 L648.34 83.31 L650.29 83.33 L652.25 83.35 L654.20 83.37 L656.15 83.39 L658.10 83.41 L660.05 83.44 L662.00 83.46 L663.95 83.48 L665.90 83.50 L667.85 83.52 L669.80 83.55 L671.75 83.57 L673.70 83.59 L675.65 83.61 L677.60 83.63 L679.55 83.66 L681.50 83.68" stroke="#333" stroke-width="1.5" fill="none" stroke-dasharray="2 1.7" stroke-dashoffset="0"/>
<path d="M39.3 175.4H80.5" stroke="#ff1010" stroke-width="1.15" stroke-dasharray="2.4 2.0 0.9 1.9" fill="none"/>
<path d="M39.3 186.5H80.5" stroke="#2020ff" stroke-width="1.35" stroke-dasharray="5.6 5.6" fill="none"/>
<path d="M39.3 186.5H80.5" stroke="#0000ff" stroke-width="2.2" stroke-linecap="round" stroke-dasharray="0 11.2" stroke-dashoffset="-8.4" fill="none"/>
<path d="M39.3 197.8H80.5" stroke="#ff30ff" stroke-width="1.6" stroke-dasharray="5.8 5.1" fill="none"/>
<path d="M39.3 212.3H80.5" stroke="#333" stroke-width="1.5" stroke-dasharray="2 1.7" fill="none"/>
<text x="97.39" y="175.1" font-size="10.7">LO</text>
<text x="97.39" y="186.3" font-size="10.7">NLO</text>
<text x="97.39" y="197.2" font-size="10.7">NNLO</text>
<text x="97.39" y="212.3" font-size="10.7">N</text>
<text x="105.57" y="206.2" font-size="7.0" class="g">3</text>
<text x="108.29" y="212.3" font-size="10.7">LO</text>
<text x="122.31" y="215.5" font-size="6.5" class="g" letter-spacing="0.55">(sv)</text>
<path d="M391.3 181.2H432.5" stroke="#ff1010" stroke-width="1.15" stroke-dasharray="2.4 2.0 0.9 1.9" fill="none"/>
<path d="M391.3 194.8H432.5" stroke="#2020ff" stroke-width="1.35" stroke-dasharray="5.6 5.6" fill="none"/>
<path d="M391.3 194.8H432.5" stroke="#0000ff" stroke-width="2.2" stroke-linecap="round" stroke-dasharray="0 11.2" stroke-dashoffset="-8.4" fill="none"/>
<path d="M391.3 208.1H432.5" stroke="#ff30ff" stroke-width="1.6" stroke-dasharray="5.8 5.1" fill="none"/>
<path d="M391.3 221.3H432.5" stroke="#333" stroke-width="1.5" stroke-dasharray="2 1.7" fill="none"/>
<text x="449.69" y="181.2" font-size="10.7">LO</text>
<text x="449.69" y="194.6" font-size="10.7">NLO</text>
<text x="449.69" y="208.0" font-size="10.7">NNLO</text>
<text x="449.69" y="221.8" font-size="10.7">N</text>
<text x="456.77" y="215.3" font-size="7.0" class="g">3</text>
<text x="460.29" y="221.8" font-size="10.7">LO</text>
<text x="474.61" y="225.3" font-size="6.5" class="g" letter-spacing="0.55">(sv)</text>
<text x="229.89" y="21.0" font-size="10.7">LHC 13 TeV</text>
<text x="229.90" y="35.3" font-size="10.5">MSTW2008</text>
<text x="229.13" y="49.6" font-size="10.7">μ</text>
<text x="235.47" y="49.6" font-size="10.7">=</text>
<text x="243.43" y="49.6" font-size="10.7">μ</text>
<text x="249.78" y="52.9" font-size="7.5" class="g">R</text>
<text x="257.37" y="49.6" font-size="10.7">=</text>
<text x="265.43" y="49.6" font-size="10.7">μ</text>
<text x="271.68" y="52.9" font-size="7.5" class="g">F</text>
<text x="229.48" y="63.9" font-size="10.7">m</text>
<text x="237.58" y="66.9" font-size="7.5" class="g">H</text>
<text x="245.27" y="63.9" font-size="10.7">=</text>
<text x="254.60" y="63.9" font-size="10.2">125</text>
<text x="272.36" y="63.9" font-size="10.7">GeV</text>
<text x="582.39" y="27.0" font-size="10.7">LHC 13 TeV</text>
<text x="582.40" y="40.0" font-size="10.5">MSTW2008</text>
<text x="581.73" y="53.9" font-size="10.7">μ</text>
<text x="590.47" y="53.9" font-size="10.7">=</text>
<text x="598.13" y="53.9" font-size="10.7">μ</text>
<text x="604.98" y="56.9" font-size="7.5" class="g">R</text>
<text x="612.47" y="53.9" font-size="10.7">=</text>
<text x="620.43" y="53.9" font-size="10.7">μ</text>
<text x="626.78" y="56.9" font-size="7.5" class="g">F</text>
<text x="582.38" y="66.8" font-size="10.7">m</text>
<text x="590.03" y="70.6" font-size="7.5" class="g">A</text>
<text x="597.57" y="66.8" font-size="10.7">=</text>
<text x="606.60" y="66.8" font-size="10.2">125</text>
<text x="624.36" y="66.8" font-size="10.7">GeV</text>
<text x="39.32" y="35.1" font-size="10.4">dσ (pp</text>
<path d="M70.7 32.4H79.10000000000001M76.5 30.599999999999998L79.7 32.4L76.5 34.199999999999996" stroke="#1a1a1a" stroke-width="0.9" fill="none"/>
<text x="83.30" y="35.1" font-size="10.4">H) (pb)</text>
<text x="391.42" y="26.8" font-size="10.4">dσ (pp</text>
<path d="M422.8 24.1H431.5M428.90000000000003 22.3L432.1 24.1L428.90000000000003 25.900000000000002" stroke="#1a1a1a" stroke-width="0.9" fill="none"/>
<text x="435.30" y="26.8" font-size="10.4">A) (pb)</text>
<text transform="translate(173.65 261.4) scale(1.0 1)" font-size="13">μ</text>
<text transform="translate(184.10 261.4) scale(1.0 1)" font-size="12.5">/</text>
<text transform="translate(190.86 261.4) scale(0.9 1)" font-size="12.5">m</text>
<text transform="translate(199.67 265.1) scale(1.0 1)" font-size="8">H</text>
<text transform="translate(525.95 259.4) scale(1.0 1)" font-size="13">μ</text>
<text transform="translate(536.10 259.4) scale(1.0 1)" font-size="12.5">/</text>
<text transform="translate(543.26 259.4) scale(0.9 1)" font-size="12.5">m</text>
<text transform="translate(552.42 263.8) scale(1.0 1)" font-size="8">A</text>
</svg>
</body></html>
